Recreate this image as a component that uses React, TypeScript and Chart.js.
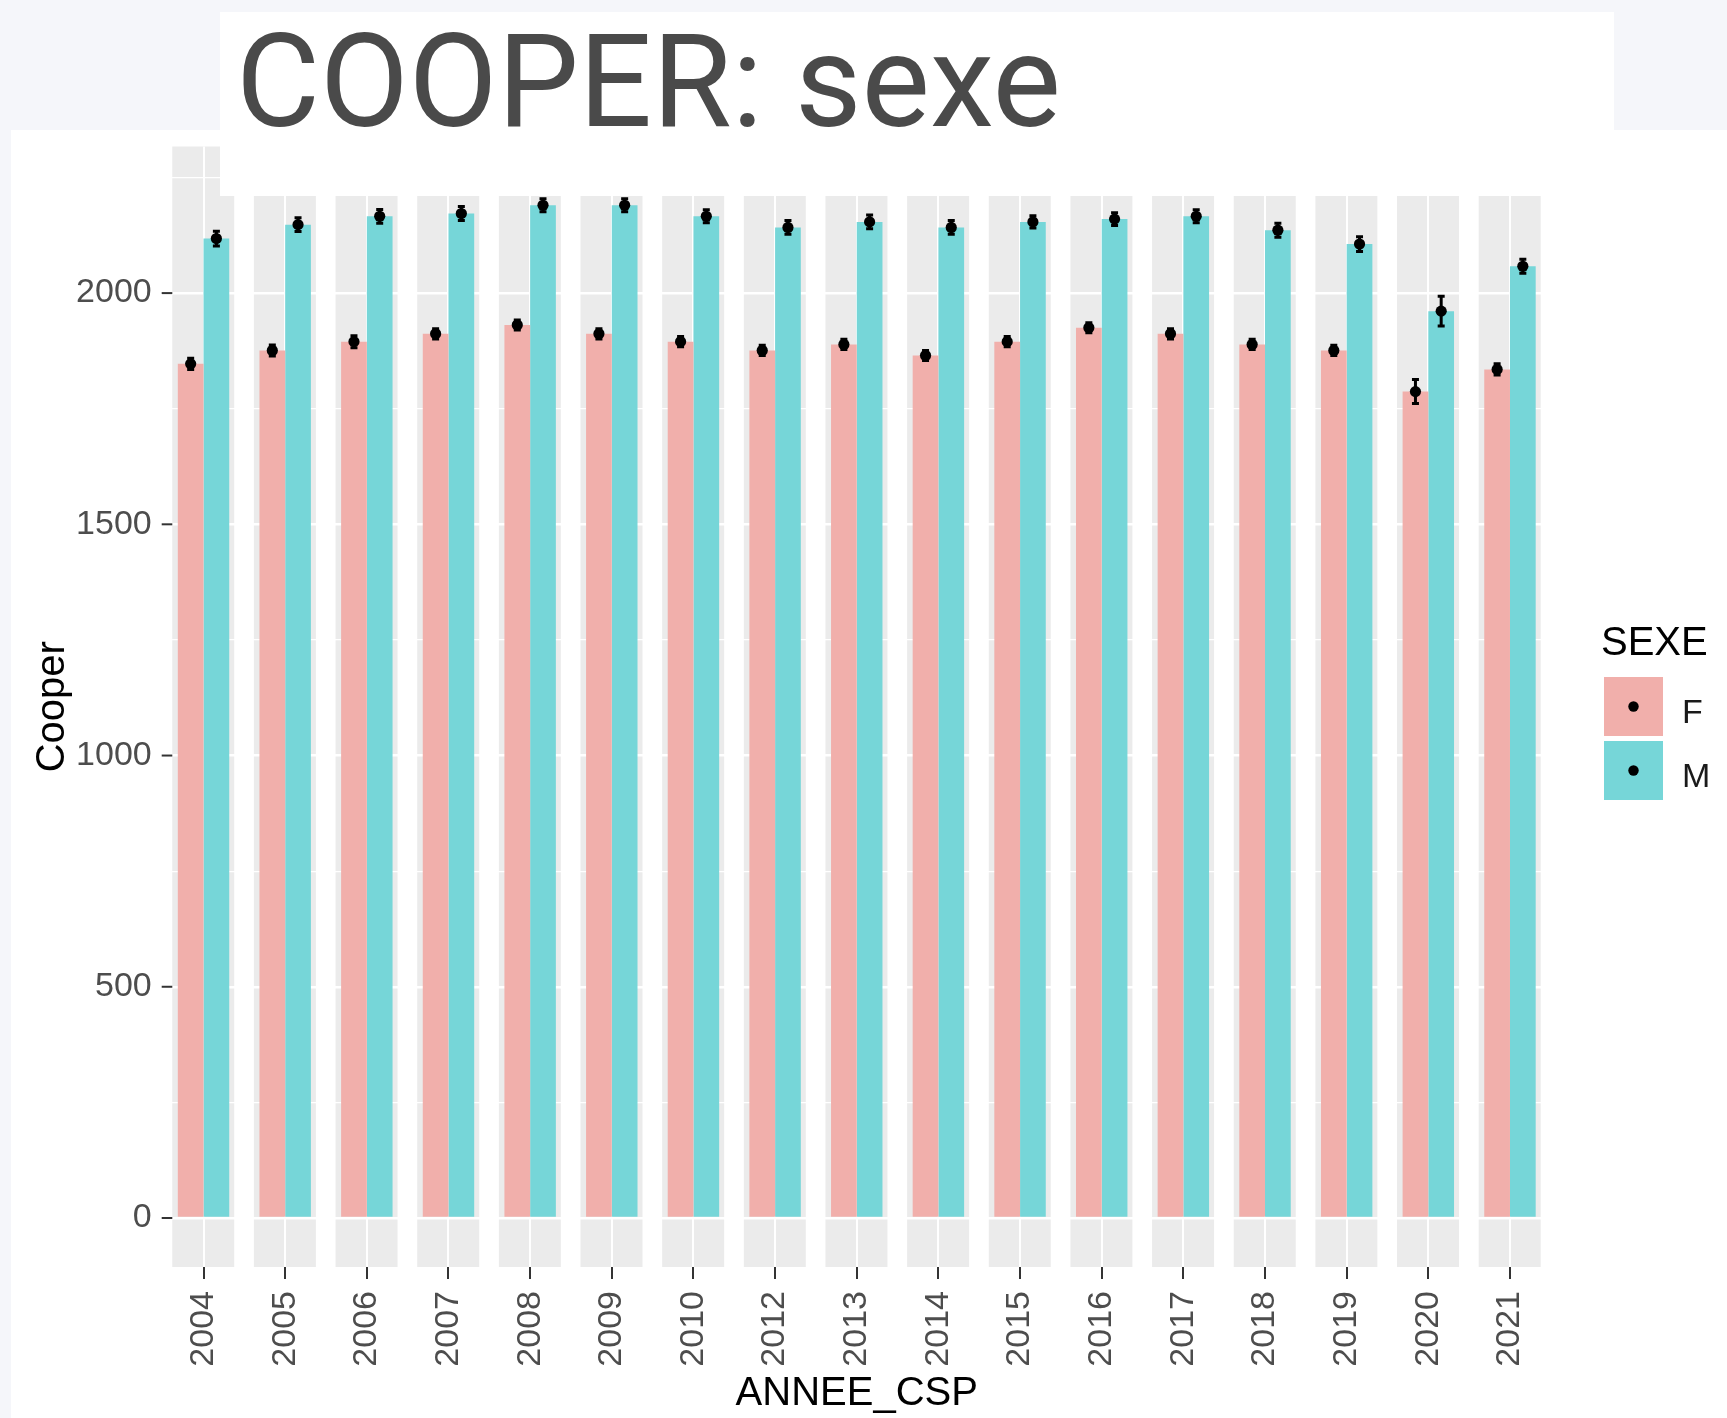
import React, { useEffect, useRef } from 'react';
import { Chart, registerables } from 'chart.js';

Chart.register(...registerables);

// ---- data ----
const years = ['2004', '2005', '2006', '2007', '2008', '2009', '2010', '2012', '2013', '2014', '2015', '2016', '2017', '2018', '2019', '2020', '2021'];
const femaleMeans = [1847, 1876, 1895, 1912, 1931, 1912, 1895, 1876, 1889, 1865, 1895, 1925, 1912, 1889, 1876, 1787, 1835];
const maleMeans = [2118, 2148, 2166, 2172, 2190, 2190, 2166, 2142, 2154, 2142, 2154, 2160, 2166, 2136, 2106, 1961, 2058];
const femaleErr = [12, 12, 13, 11, 11, 11, 11, 11, 11, 11, 11, 11, 11, 11, 11, 26, 12];
const maleErr = [16, 15, 15, 15, 14, 14, 14, 15, 15, 15, 13, 14, 14, 15, 16, 32, 15];
const yMajorTicks = [0, 500, 1000, 1500, 2000];
const seriesNames = ['F', 'M'];
const legendTitle = 'SEXE';
const xTitle = 'ANNEE_CSP';
const yTitle = 'Cooper';
const chartTitle = 'COOPER: sexe';

const PINK = '#F1AFAB';
const CYAN = '#76D6D8';
const FONT = '"Liberation Sans", Arial, Helvetica, sans-serif';

const errors = [femaleErr, maleErr];

const ggPlugin = {
  id: 'ggLook',
  beforeDraw(chart: any) {
    const { ctx, chartArea, scales } = chart;
    const x = scales.x;
    const w = x.getPixelForTick(1) - x.getPixelForTick(0);
    ctx.save();
    ctx.fillStyle = '#EBEBEB';
    years.forEach((_, i) => {
      const c = x.getPixelForTick(i);
      ctx.fillRect(c - w * 0.383, chartArea.top, w * 0.759, chartArea.bottom - chartArea.top);
    });
    ctx.restore();
  },
  afterDatasetsDraw(chart: any) {
    const { ctx, scales } = chart;
    const y = scales.y;
    ctx.save();
    ctx.strokeStyle = '#000';
    ctx.fillStyle = '#000';
    ctx.lineWidth = 3;
    chart.data.datasets.forEach((ds: any, di: number) => {
      const meta = chart.getDatasetMeta(di);
      meta.data.forEach((el: any, j: number) => {
        const v = ds.data[j];
        const e = errors[di][j];
        const px = el.x;
        const yc = y.getPixelForValue(v);
        const yl = y.getPixelForValue(v - e);
        const yh = y.getPixelForValue(v + e);
        ctx.beginPath();
        ctx.moveTo(px, yl);
        ctx.lineTo(px, yh);
        ctx.moveTo(px - 3.5, yl);
        ctx.lineTo(px + 3.5, yl);
        ctx.moveTo(px - 3.5, yh);
        ctx.lineTo(px + 3.5, yh);
        ctx.stroke();
        ctx.beginPath();
        ctx.arc(px, yc, 5.6, 0, Math.PI * 2);
        ctx.fill();
      });
    });
    ctx.restore();
  },
  afterDraw(chart: any) {
    const { ctx, chartArea, scales } = chart;
    const y = scales.y;
    ctx.save();
    // y tick marks
    ctx.strokeStyle = '#333333';
    ctx.lineWidth = 2;
    yMajorTicks.forEach((v) => {
      const py = y.getPixelForValue(v);
      ctx.beginPath();
      ctx.moveTo(chartArea.left - 1, py);
      ctx.lineTo(chartArea.left + 9.6, py);
      ctx.stroke();
    });
    // axis titles
    ctx.fillStyle = '#000';
    ctx.font = `40px ${FONT}`;
    ctx.textAlign = 'center';
    ctx.textBaseline = 'alphabetic';
    ctx.fillText(xTitle, (chartArea.left + chartArea.right) / 2, 1275);
    ctx.save();
    ctx.translate(53, (chartArea.top + chartArea.bottom) / 2);
    ctx.rotate(-Math.PI / 2);
    ctx.fillText(yTitle, 0, 0);
    ctx.restore();
    // legend
    ctx.textAlign = 'left';
    ctx.font = `40px ${FONT}`;
    ctx.fillText(legendTitle, 1590, 525);
    const keyColors = [PINK, CYAN];
    const keyTops = [547, 611];
    const labelBase = [593, 657];
    seriesNames.forEach((n, i) => {
      ctx.fillStyle = keyColors[i];
      ctx.fillRect(1593, keyTops[i], 59, 59);
      ctx.fillStyle = '#000';
      ctx.beginPath();
      ctx.arc(1593 + 29.5, keyTops[i] + 29.5, 5.2, 0, Math.PI * 2);
      ctx.fill();
      ctx.font = `34px ${FONT}`;
      ctx.fillStyle = '#1a1a1a';
      ctx.fillText(n, 1671, labelBase[i]);
    });
    ctx.restore();
  },
};

function ChartCanvas() {
  const ref = useRef<HTMLCanvasElement | null>(null);
  useEffect(() => {
    if (!ref.current) return;
    const chart = new Chart(ref.current, {
      type: 'bar',
      data: {
        labels: years,
        datasets: [
          { label: seriesNames[0], data: femaleMeans, backgroundColor: PINK, borderWidth: 0, barPercentage: 1, categoryPercentage: 0.63 },
          { label: seriesNames[1], data: maleMeans, backgroundColor: CYAN, borderWidth: 0, barPercentage: 1, categoryPercentage: 0.63 },
        ],
      },
      options: {
        responsive: false,
        animation: false,
        devicePixelRatio: 1,
        layout: { padding: { top: 16.5, right: 176.2, left: 0, bottom: 0 } },
        plugins: { legend: { display: false }, title: { display: false }, tooltip: { enabled: false } },
        scales: {
          x: {
            type: 'category',
            offset: true,
            border: { display: false },
            grid: { color: '#FFFFFF', lineWidth: 2, offset: false, drawTicks: true, tickLength: 12, tickColor: '#333333', tickWidth: 2 },
            ticks: { autoSkip: false, minRotation: 90, maxRotation: 90, padding: 12, color: '#4D4D4D', font: { family: FONT, size: 34 } },
            afterFit: (s: any) => { s.height = 151; s.paddingLeft = 0; s.paddingRight = 0; },
          },
          y: {
            min: -106,
            max: 2317,
            border: { display: false },
            grid: {
              color: '#FFFFFF',
              drawTicks: false,
              lineWidth: (c: any) => (c.tick && c.tick.value % 500 === 0 ? 2.4 : 1.2),
            },
            ticks: {
              stepSize: 250,
              includeBounds: false,
              padding: 11,
              color: '#4D4D4D',
              font: { family: FONT, size: 34 },
              callback: (v: any) => (Number(v) % 500 === 0 ? String(v) : ''),
            },
            afterFit: (s: any) => { s.width = 151.7; s.paddingTop = 0; s.paddingBottom = 0; },
          },
        },
      },
      plugins: [ggPlugin],
    } as any);
    return () => chart.destroy();
  }, []);
  return <canvas ref={ref} width={1716} height={1288} style={{ display: 'block', width: 1716, height: 1288 }} />;
}

export default function App() {
  return (
    <div style={{ position: 'absolute', left: 0, top: 0, width: 1727, height: 1418, background: '#F5F6FA', overflow: 'hidden' }}>
      <div style={{ position: 'absolute', left: 11, top: 130, width: 1716, height: 1288, background: '#FFFFFF' }}>
        <ChartCanvas />
      </div>
      <div style={{ position: 'absolute', left: 220, top: 12, width: 1394, height: 184, background: '#FFFFFF' }}>
        <div style={{ position: 'absolute', left: 16, top: 5, fontFamily: 'Roboto, sans-serif', fontSize: 129, lineHeight: '129px', color: '#4A4A4A', whiteSpace: 'nowrap' }}>
          {chartTitle}
        </div>
      </div>
    </div>
  );
}
